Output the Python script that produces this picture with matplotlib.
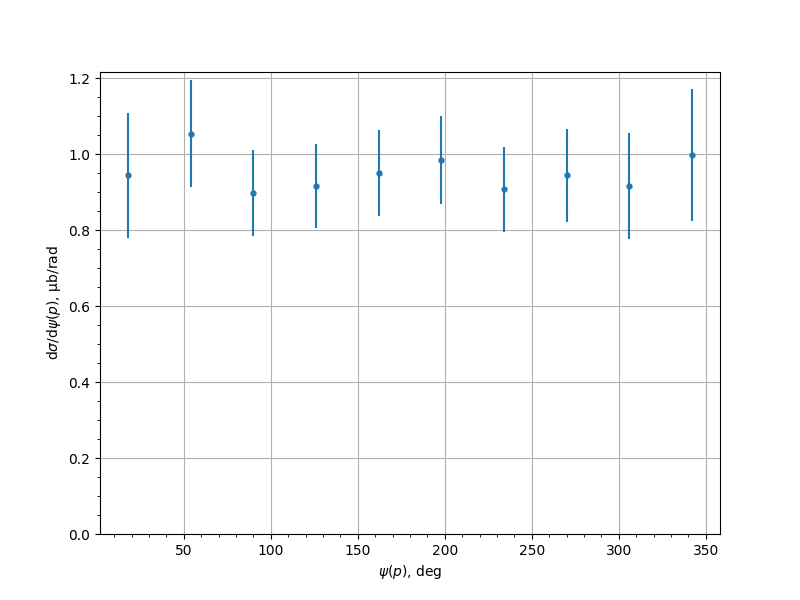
import numpy as np
import matplotlib
matplotlib.use("Agg")
import matplotlib.pyplot as plt
from matplotlib.ticker import AutoMinorLocator

# bin centres, deg
psi = [18, 54, 90, 126, 162, 198, 234, 270, 306, 342]
# cross section, mub/rad
xsec = [0.944, 1.054, 0.898, 0.916, 0.950, 0.985, 0.907, 0.944, 0.916, 0.998]
err = [0.164, 0.141, 0.113, 0.111, 0.112, 0.116, 0.111, 0.122, 0.139, 0.174]

fig, ax = plt.subplots(figsize=(8, 6), dpi=100)
ax.errorbar(psi, xsec, yerr=err, fmt='o', markersize=3.5, color='tab:blue')
ax.set_ylim(bottom=0)
ax.xaxis.set_minor_locator(AutoMinorLocator())
ax.yaxis.set_minor_locator(AutoMinorLocator())
ax.grid(True)
ax.set_axisbelow(True)
ax.set_xlabel(r'$\psi(p)$, deg')
ax.set_ylabel(r'$\mathrm{d}\sigma/\mathrm{d}\psi(p)$, μb/rad')
fig.savefig("out.png")
